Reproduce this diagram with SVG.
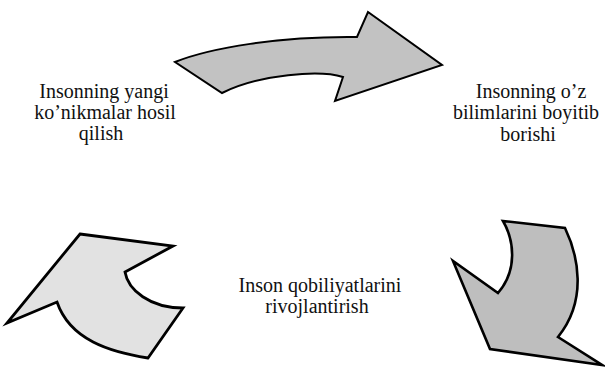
<svg xmlns="http://www.w3.org/2000/svg" width="605" height="367" viewBox="0 0 605 367">
<defs>
<style type="text/css">
text{font-family:"Liberation Serif","Times New Roman",serif;font-size:20px;fill:#111;text-anchor:middle}
path{stroke:#000;stroke-linejoin:miter;stroke-miterlimit:10}
</style>
</defs>
<rect width="605" height="367" fill="#fff"/>
<g id="connectors">
<path id="arrow-top" fill="#c2c2c2" stroke-width="2" d="M175,62 C210,48 280,36 357,37 L368,12 L442,65 L335,101 L343,77 C320,70 260,74 222,93 Z"/>
<path id="arrow-right" fill="#bebebe" stroke-width="2.6" d="M503,221 L565,228 C578,255 588,300 558,337 L602,365 L490,349 L453,261 L498,293 C518,270 514,240 503,221 Z"/>
<path id="arrow-left" fill="#e2e2e2" stroke-width="2.8" d="M80,234 L173,246 L125,272 C128,290 150,308 183,308 L148,358 C110,352 70,340 57,302 L7,323 Z"/>
</g>
<g id="node-skills" font-family="Liberation Serif, Times New Roman, serif" font-size="20" text-anchor="middle" fill="#111">
<text x="104" y="98">Insonning yangi</text>
<text x="105" y="119">ko’nikmalar hosil</text>
<text x="101" y="140">qilish</text>
</g>
<g id="node-knowledge" font-family="Liberation Serif, Times New Roman, serif" font-size="20" text-anchor="middle" fill="#111">
<text x="531" y="98">Insonning o’z</text>
<text x="526" y="119">bilimlarini boyitib</text>
<text x="528" y="141">borishi</text>
</g>
<g id="node-abilities" font-family="Liberation Serif, Times New Roman, serif" font-size="20" text-anchor="middle" fill="#111">
<text x="320" y="292">Inson qobiliyatlarini</text>
<text x="317" y="313">rivojlantirish</text>
</g>
</svg>
